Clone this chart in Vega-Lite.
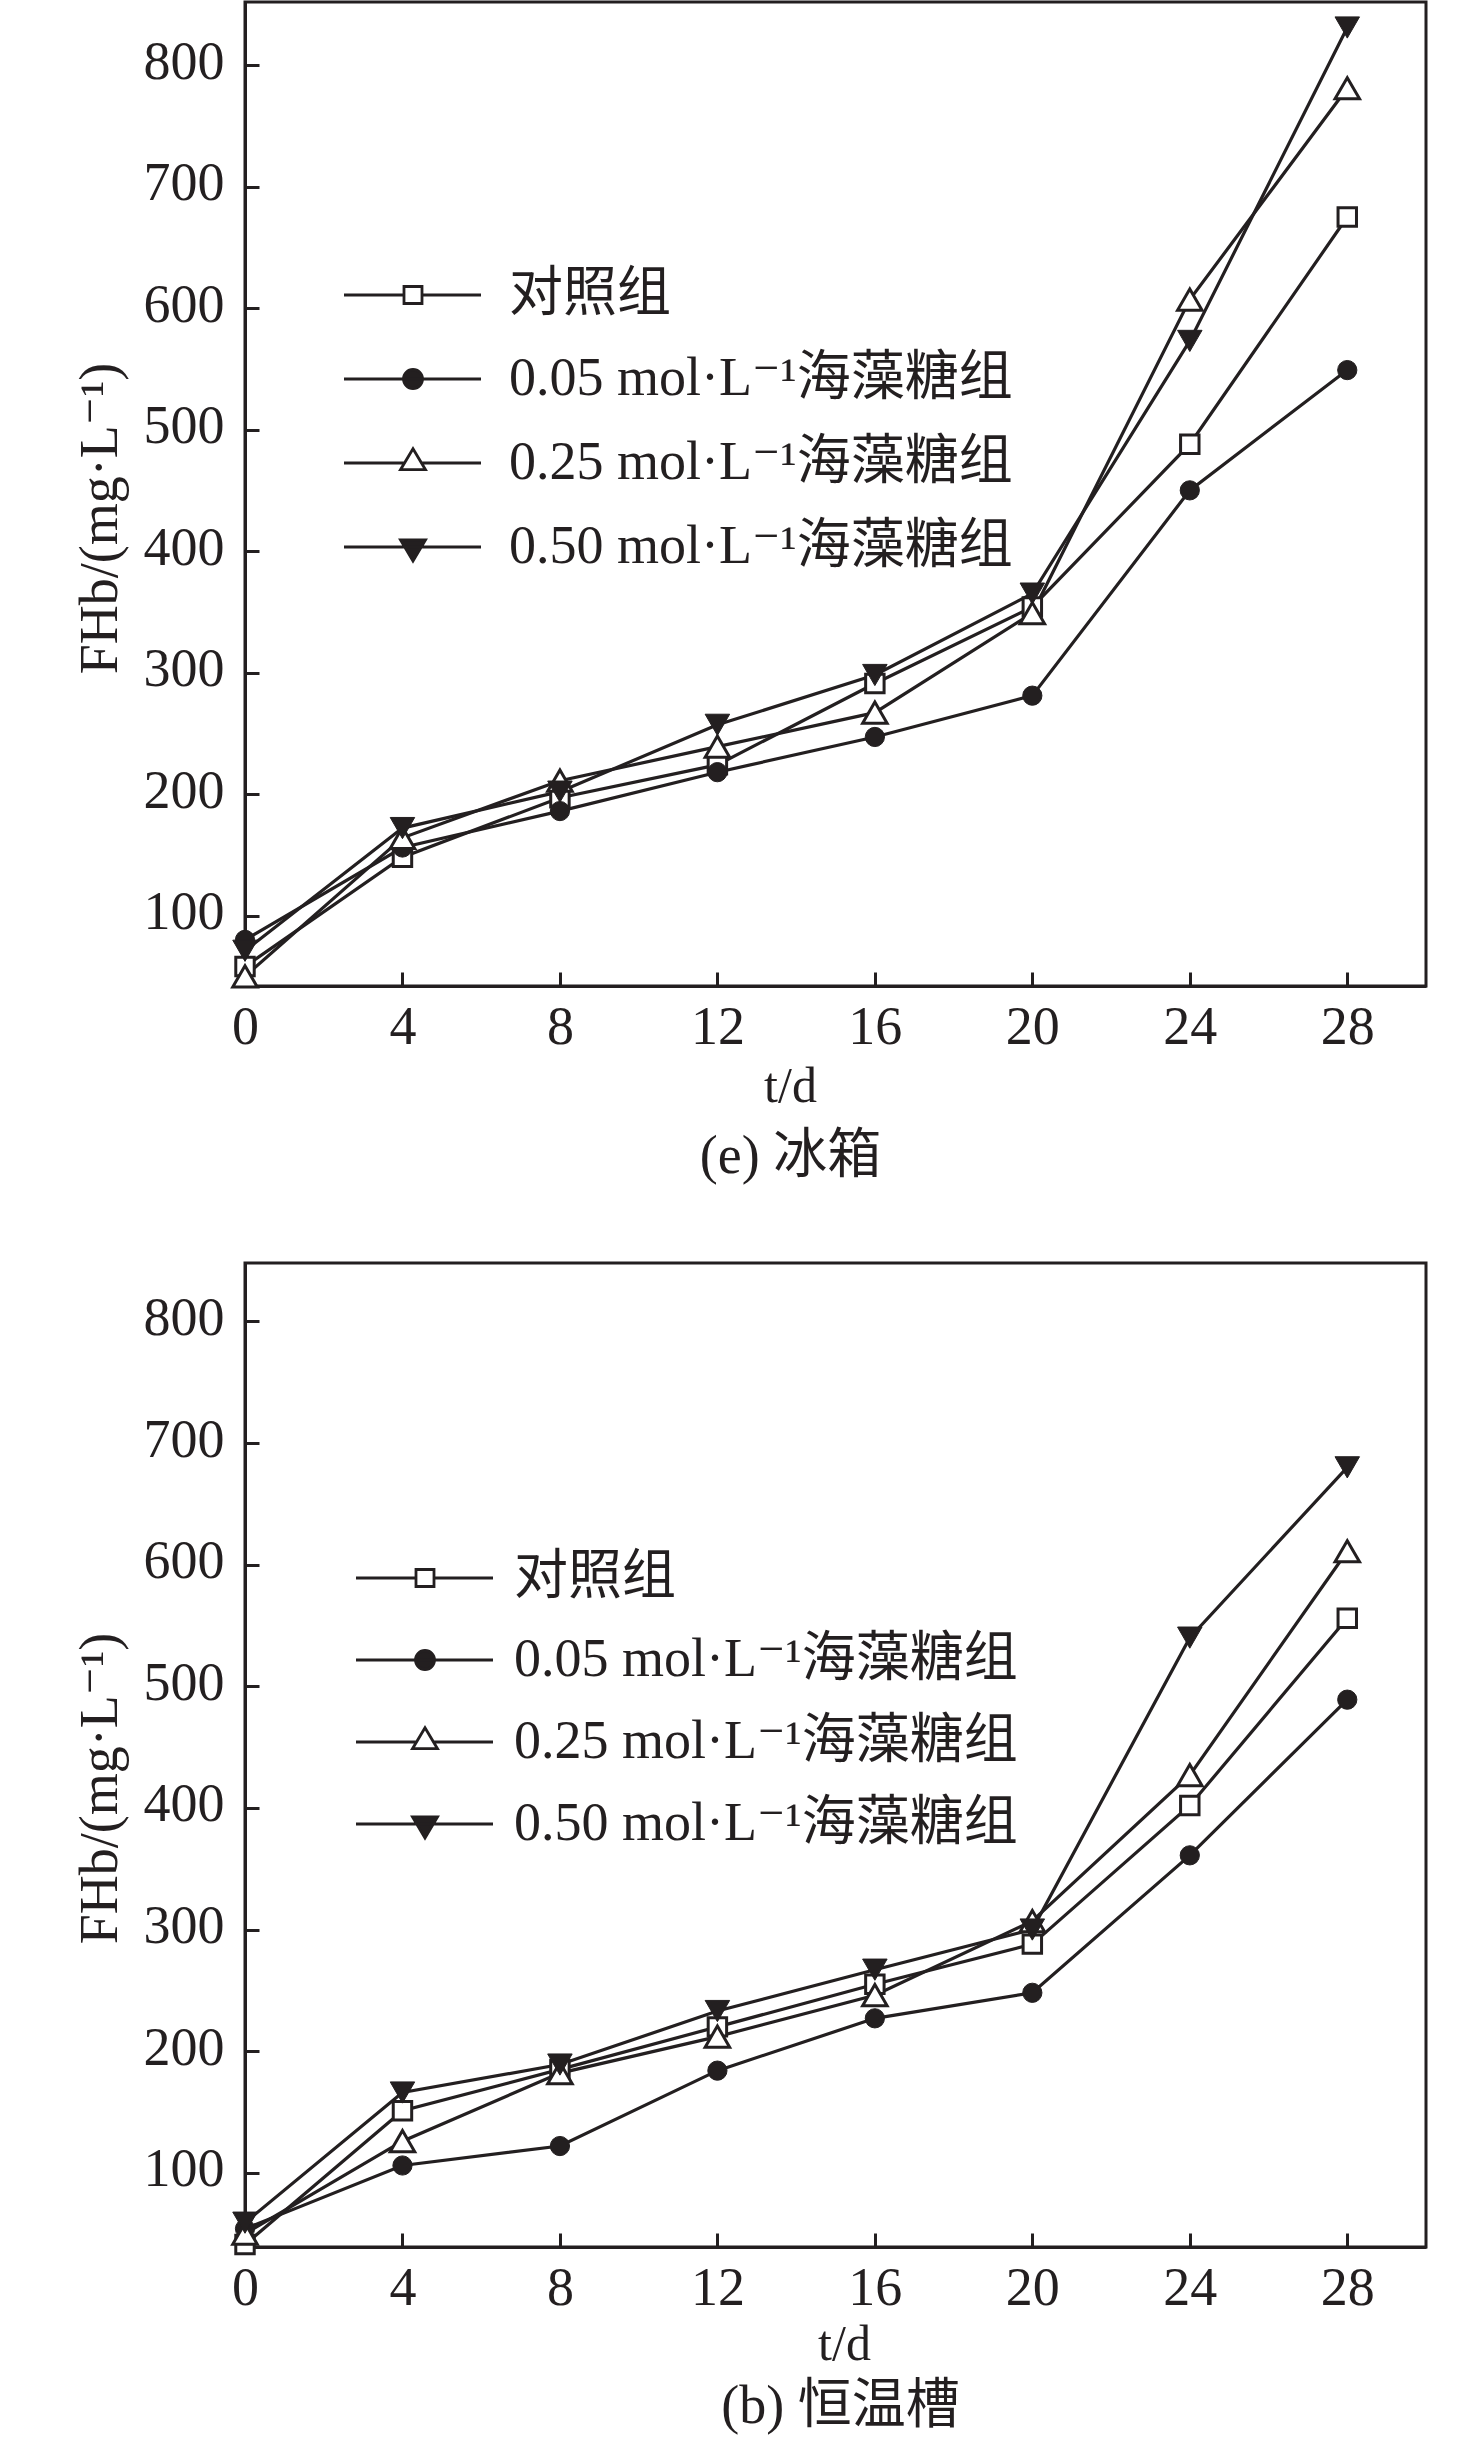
{
  "$schema": "https://vega.github.io/schema/vega-lite/v6.json",
  "background": "white",
  "padding": {"left": 71, "top": 0, "right": 0, "bottom": 0},
  "spacing": 75,
  "datasets": {
    "fridge": [
      {"g": "对照组", "t": 0, "v": 58}, {"g": "对照组", "t": 4, "v": 148}, {"g": "对照组", "t": 8, "v": 197}, {"g": "对照组", "t": 12, "v": 224},
      {"g": "对照组", "t": 16, "v": 291}, {"g": "对照组", "t": 20, "v": 354}, {"g": "对照组", "t": 24, "v": 488}, {"g": "对照组", "t": 28, "v": 675},
      {"g": "0.05 mol·L⁻¹海藻糖组", "t": 0, "v": 80}, {"g": "0.05 mol·L⁻¹海藻糖组", "t": 4, "v": 156}, {"g": "0.05 mol·L⁻¹海藻糖组", "t": 8, "v": 186}, {"g": "0.05 mol·L⁻¹海藻糖组", "t": 12, "v": 218},
      {"g": "0.05 mol·L⁻¹海藻糖组", "t": 16, "v": 247}, {"g": "0.05 mol·L⁻¹海藻糖组", "t": 20, "v": 281}, {"g": "0.05 mol·L⁻¹海藻糖组", "t": 24, "v": 450}, {"g": "0.05 mol·L⁻¹海藻糖组", "t": 28, "v": 549},
      {"g": "0.25 mol·L⁻¹海藻糖组", "t": 0, "v": 50}, {"g": "0.25 mol·L⁻¹海藻糖组", "t": 4, "v": 164}, {"g": "0.25 mol·L⁻¹海藻糖组", "t": 8, "v": 211}, {"g": "0.25 mol·L⁻¹海藻糖组", "t": 12, "v": 239},
      {"g": "0.25 mol·L⁻¹海藻糖组", "t": 16, "v": 267}, {"g": "0.25 mol·L⁻¹海藻糖组", "t": 20, "v": 349}, {"g": "0.25 mol·L⁻¹海藻糖组", "t": 24, "v": 607}, {"g": "0.25 mol·L⁻¹海藻糖组", "t": 28, "v": 781},
      {"g": "0.50 mol·L⁻¹海藻糖组", "t": 0, "v": 71}, {"g": "0.50 mol·L⁻¹海藻糖组", "t": 4, "v": 172}, {"g": "0.50 mol·L⁻¹海藻糖组", "t": 8, "v": 202}, {"g": "0.50 mol·L⁻¹海藻糖组", "t": 12, "v": 257},
      {"g": "0.50 mol·L⁻¹海藻糖组", "t": 16, "v": 298}, {"g": "0.50 mol·L⁻¹海藻糖组", "t": 20, "v": 365}, {"g": "0.50 mol·L⁻¹海藻糖组", "t": 24, "v": 573}, {"g": "0.50 mol·L⁻¹海藻糖组", "t": 28, "v": 831}
    ],
    "bath": [
      {"g": "对照组", "t": 0, "v": 41}, {"g": "对照组", "t": 4, "v": 151}, {"g": "对照组", "t": 8, "v": 185}, {"g": "对照组", "t": 12, "v": 220},
      {"g": "对照组", "t": 16, "v": 255}, {"g": "对照组", "t": 20, "v": 288}, {"g": "对照组", "t": 24, "v": 402}, {"g": "对照组", "t": 28, "v": 556},
      {"g": "0.05 mol·L⁻¹海藻糖组", "t": 0, "v": 54}, {"g": "0.05 mol·L⁻¹海藻糖组", "t": 4, "v": 106}, {"g": "0.05 mol·L⁻¹海藻糖组", "t": 8, "v": 122}, {"g": "0.05 mol·L⁻¹海藻糖组", "t": 12, "v": 184},
      {"g": "0.05 mol·L⁻¹海藻糖组", "t": 16, "v": 227}, {"g": "0.05 mol·L⁻¹海藻糖组", "t": 20, "v": 248}, {"g": "0.05 mol·L⁻¹海藻糖组", "t": 24, "v": 361}, {"g": "0.05 mol·L⁻¹海藻糖组", "t": 28, "v": 489},
      {"g": "0.25 mol·L⁻¹海藻糖组", "t": 0, "v": 50}, {"g": "0.25 mol·L⁻¹海藻糖组", "t": 4, "v": 126}, {"g": "0.25 mol·L⁻¹海藻糖组", "t": 8, "v": 182}, {"g": "0.25 mol·L⁻¹海藻糖组", "t": 12, "v": 212},
      {"g": "0.25 mol·L⁻¹海藻糖组", "t": 16, "v": 246}, {"g": "0.25 mol·L⁻¹海藻糖组", "t": 20, "v": 307}, {"g": "0.25 mol·L⁻¹海藻糖组", "t": 24, "v": 427}, {"g": "0.25 mol·L⁻¹海藻糖组", "t": 28, "v": 611},
      {"g": "0.50 mol·L⁻¹海藻糖组", "t": 0, "v": 59}, {"g": "0.50 mol·L⁻¹海藻糖组", "t": 4, "v": 166}, {"g": "0.50 mol·L⁻¹海藻糖组", "t": 8, "v": 189}, {"g": "0.50 mol·L⁻¹海藻糖组", "t": 12, "v": 233},
      {"g": "0.50 mol·L⁻¹海藻糖组", "t": 16, "v": 267}, {"g": "0.50 mol·L⁻¹海藻糖组", "t": 20, "v": 300}, {"g": "0.50 mol·L⁻¹海藻糖组", "t": 24, "v": 540}, {"g": "0.50 mol·L⁻¹海藻糖组", "t": 28, "v": 680}
    ]
  },
  "vconcat": [
    {
      "data": {"name": "fridge"},
      "width": 1181,
      "height": 984,
      "title": {"text": "(e) 冰箱", "orient": "bottom", "anchor": "middle", "frame": "group", "dx": -45, "offset": 19},
      "layer": [
        {
          "mark": {"type": "line", "stroke": "#231f20", "strokeWidth": 3.2},
          "encoding": {
            "x": {"field": "t", "type": "quantitative", "scale": {"domain": [0, 30], "nice": false},
                  "axis": {"title": "t/d", "values": [0, 4, 8, 12, 16, 20, 24, 28], "titleX": 545}},
            "y": {"field": "v", "type": "quantitative", "scale": {"domain": [42, 852], "nice": false, "zero": false},
                  "axis": {"title": "FHb/(mg·L⁻¹)", "values": [100, 200, 300, 400, 500, 600, 700, 800], "titleY": 516}},
            "detail": {"field": "g"}
          }
        },
        {
          "transform": [{"filter": {"field": "g", "equal": "对照组"}}],
          "mark": {"type": "point", "shape": "square", "size": 340, "filled": true, "fill": "#ffffff", "stroke": "#231f20", "strokeWidth": 3, "opacity": 1},
          "encoding": {"x": {"field": "t", "type": "quantitative"}, "y": {"field": "v", "type": "quantitative"}}
        },
        {
          "transform": [{"filter": {"field": "g", "equal": "0.05 mol·L⁻¹海藻糖组"}}],
          "mark": {"type": "point", "shape": "circle", "size": 370, "filled": true, "fill": "#231f20", "stroke": "#231f20", "strokeWidth": 1, "opacity": 1},
          "encoding": {"x": {"field": "t", "type": "quantitative"}, "y": {"field": "v", "type": "quantitative"}}
        },
        {
          "transform": [{"filter": {"field": "g", "equal": "0.25 mol·L⁻¹海藻糖组"}}],
          "mark": {"type": "point", "shape": "triangle-up", "size": 600, "filled": true, "fill": "#ffffff", "stroke": "#231f20", "strokeWidth": 3, "opacity": 1},
          "encoding": {"x": {"field": "t", "type": "quantitative"}, "y": {"field": "v", "type": "quantitative"}}
        },
        {
          "transform": [{"filter": {"field": "g", "equal": "0.50 mol·L⁻¹海藻糖组"}}],
          "mark": {"type": "point", "shape": "triangle-down", "size": 600, "filled": true, "fill": "#231f20", "stroke": "#231f20", "strokeWidth": 1, "opacity": 1},
          "encoding": {"x": {"field": "t", "type": "quantitative"}, "y": {"field": "v", "type": "quantitative"}}
        },
        {
          "transform": [{"filter": "datum.t < 0"}],
          "mark": {"type": "point", "filled": true, "size": 400, "strokeWidth": 2.8, "opacity": 1},
          "encoding": {
            "x": {"field": "t", "type": "quantitative"},
            "y": {"field": "v", "type": "quantitative"},
            "shape": {"field": "g", "type": "nominal",
                      "scale": {"domain": ["对照组", "0.05 mol·L⁻¹海藻糖组", "0.25 mol·L⁻¹海藻糖组", "0.50 mol·L⁻¹海藻糖组"],
                                "range": ["M-6.9,0H-0.9M0.9,0H6.8M-0.9,-0.85H0.9V0.85H-0.9Z",
                                          "M-6.9,0H6.8M-0.95,0A0.95,0.95,0,1,1,0.95,0A0.95,0.95,0,1,1,-0.95,0Z",
                                          "M-6.9,0H-0.85M0.85,0H6.8M0,-1.43L1.25,0.67H-1.25Z",
                                          "M-6.9,0H6.8M-1.25,-0.7H1.25L0,1.4Z"]},
                      "legend": {"orient": "none", "legendX": 141, "legendY": 266, "labelOffset": 69, "rowPadding": 30}},
            "fill": {"field": "g", "type": "nominal",
                     "scale": {"domain": ["对照组", "0.05 mol·L⁻¹海藻糖组", "0.25 mol·L⁻¹海藻糖组", "0.50 mol·L⁻¹海藻糖组"], "range": ["#ffffff", "#231f20", "#ffffff", "#231f20"]},
                     "legend": {"orient": "none", "legendX": 141, "legendY": 266, "labelOffset": 69, "rowPadding": 30}},
            "stroke": {"field": "g", "type": "nominal",
                       "scale": {"domain": ["对照组", "0.05 mol·L⁻¹海藻糖组", "0.25 mol·L⁻¹海藻糖组", "0.50 mol·L⁻¹海藻糖组"], "range": ["#231f20", "#231f20", "#231f20", "#231f20"]},
                       "legend": {"orient": "none", "legendX": 141, "legendY": 266, "labelOffset": 69, "rowPadding": 30}}
          }
        }
      ]
    },
    {
      "data": {"name": "bath"},
      "width": 1181,
      "height": 984,
      "title": {"text": "(b) 恒温槽", "orient": "bottom", "anchor": "middle", "frame": "group", "dx": 5, "offset": 11},
      "layer": [
        {
          "mark": {"type": "line", "stroke": "#231f20", "strokeWidth": 3.2},
          "encoding": {
            "x": {"field": "t", "type": "quantitative", "scale": {"domain": [0, 30], "nice": false},
                  "axis": {"title": "t/d", "values": [0, 4, 8, 12, 16, 20, 24, 28], "titleX": 599, "titlePadding": 4}},
            "y": {"field": "v", "type": "quantitative", "scale": {"domain": [39, 848], "nice": false, "zero": false},
                  "axis": {"title": "FHb/(mg·L⁻¹)", "values": [100, 200, 300, 400, 500, 600, 700, 800], "titleY": 525}},
            "detail": {"field": "g"}
          }
        },
        {
          "transform": [{"filter": {"field": "g", "equal": "对照组"}}],
          "mark": {"type": "point", "shape": "square", "size": 340, "filled": true, "fill": "#ffffff", "stroke": "#231f20", "strokeWidth": 3, "opacity": 1},
          "encoding": {"x": {"field": "t", "type": "quantitative"}, "y": {"field": "v", "type": "quantitative"}}
        },
        {
          "transform": [{"filter": {"field": "g", "equal": "0.05 mol·L⁻¹海藻糖组"}}],
          "mark": {"type": "point", "shape": "circle", "size": 370, "filled": true, "fill": "#231f20", "stroke": "#231f20", "strokeWidth": 1, "opacity": 1},
          "encoding": {"x": {"field": "t", "type": "quantitative"}, "y": {"field": "v", "type": "quantitative"}}
        },
        {
          "transform": [{"filter": {"field": "g", "equal": "0.25 mol·L⁻¹海藻糖组"}}],
          "mark": {"type": "point", "shape": "triangle-up", "size": 600, "filled": true, "fill": "#ffffff", "stroke": "#231f20", "strokeWidth": 3, "opacity": 1},
          "encoding": {"x": {"field": "t", "type": "quantitative"}, "y": {"field": "v", "type": "quantitative"}}
        },
        {
          "transform": [{"filter": {"field": "g", "equal": "0.50 mol·L⁻¹海藻糖组"}}],
          "mark": {"type": "point", "shape": "triangle-down", "size": 600, "filled": true, "fill": "#231f20", "stroke": "#231f20", "strokeWidth": 1, "opacity": 1},
          "encoding": {"x": {"field": "t", "type": "quantitative"}, "y": {"field": "v", "type": "quantitative"}}
        },
        {
          "transform": [{"filter": "datum.t < 0"}],
          "mark": {"type": "point", "filled": true, "size": 400, "strokeWidth": 2.8, "opacity": 1},
          "encoding": {
            "x": {"field": "t", "type": "quantitative"},
            "y": {"field": "v", "type": "quantitative"},
            "shape": {"field": "g", "type": "nominal",
                      "scale": {"domain": ["对照组", "0.05 mol·L⁻¹海藻糖组", "0.25 mol·L⁻¹海藻糖组", "0.50 mol·L⁻¹海藻糖组"],
                                "range": ["M-6.9,0H-0.9M0.9,0H6.8M-0.9,-0.85H0.9V0.85H-0.9Z",
                                          "M-6.9,0H6.8M-0.95,0A0.95,0.95,0,1,1,0.95,0A0.95,0.95,0,1,1,-0.95,0Z",
                                          "M-6.9,0H-0.85M0.85,0H6.8M0,-1.43L1.25,0.67H-1.25Z",
                                          "M-6.9,0H6.8M-1.25,-0.7H1.25L0,1.4Z"]},
                      "legend": {"orient": "none", "legendX": 153, "legendY": 288, "labelOffset": 62, "rowPadding": 28}},
            "fill": {"field": "g", "type": "nominal",
                     "scale": {"domain": ["对照组", "0.05 mol·L⁻¹海藻糖组", "0.25 mol·L⁻¹海藻糖组", "0.50 mol·L⁻¹海藻糖组"], "range": ["#ffffff", "#231f20", "#ffffff", "#231f20"]},
                     "legend": {"orient": "none", "legendX": 153, "legendY": 288, "labelOffset": 62, "rowPadding": 28}},
            "stroke": {"field": "g", "type": "nominal",
                       "scale": {"domain": ["对照组", "0.05 mol·L⁻¹海藻糖组", "0.25 mol·L⁻¹海藻糖组", "0.50 mol·L⁻¹海藻糖组"], "range": ["#231f20", "#231f20", "#231f20", "#231f20"]},
                       "legend": {"orient": "none", "legendX": 153, "legendY": 288, "labelOffset": 62, "rowPadding": 28}}
          }
        }
      ]
    }
  ],
  "resolve": {"scale": {"shape": "independent", "fill": "independent", "stroke": "independent"}},
  "config": {
    "font": "Liberation Serif, DejaVu Serif, Noto Sans CJK SC",
    "view": {"stroke": "#231f20", "strokeWidth": 3},
    "axis": {
      "grid": false,
      "domainColor": "#231f20", "domainWidth": 3,
      "tickColor": "#231f20", "tickWidth": 3, "tickSize": -14,
      "labelFont": "Liberation Serif, DejaVu Serif, Noto Sans CJK SC", "labelFontSize": 54, "labelColor": "#231f20",
      "labelFlush": false, "labelOverlap": false,
      "titleFont": "Liberation Serif, DejaVu Serif, Noto Sans CJK SC", "titleFontWeight": "normal", "titleColor": "#231f20"
    },
    "axisX": {"labelPadding": 28, "titleFontSize": 50, "titlePadding": 7},
    "axisY": {"labelPadding": 35, "labelOffset": -3, "titleFontSize": 54, "titlePadding": 16},
    "legend": {
      "title": null, "padding": 0, "symbolSize": 400,
      "labelFont": "Liberation Serif, DejaVu Serif, Noto Sans CJK SC", "labelFontSize": 54, "labelColor": "#231f20",
      "symbolStrokeColor": "#231f20", "symbolStrokeWidth": 2.8, "labelLimit": 0
    },
    "title": {"font": "Liberation Serif, DejaVu Serif, Noto Sans CJK SC", "fontSize": 54, "fontWeight": "normal", "color": "#231f20"}
  }
}
